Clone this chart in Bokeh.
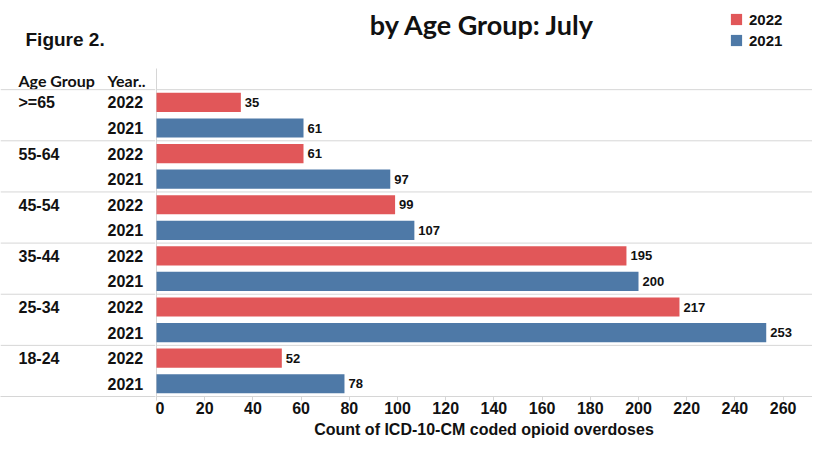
from bokeh.plotting import figure
from bokeh.models import Range1d, ColumnDataSource, Span, FixedTicker, Legend, LegendItem
from bokeh.layouts import row
from bokeh.core.properties import value
from bokeh.embed import file_html
from bokeh.resources import INLINE

# ---- data ----
age_groups = [">=65", "55-64", "45-54", "35-44", "25-34", "18-24"]
years = ["2022", "2021"]
counts_2022 = [35, 61, 99, 195, 217, 52]
counts_2021 = [61, 97, 107, 200, 253, 78]
x_ticks = [0, 20, 40, 60, 80, 100, 120, 140, 160, 180, 200, 220, 240, 260]

title_text = "by Age Group: July"
figure_text = "Figure 2."
x_title = "Count of ICD-10-CM coded opioid overdoses"
header_age = "Age Group"
header_year = "Year.."

RED = "#E15759"
BLUE = "#4E79A7"
SEP = "#d6d6d6"
TXT = "#111111"
LIB = value("Liberation Sans")
HUM = value("Lato")

# ---- layout constants (pixels) ----
H = 441
BOTTOM = 45
FRAME_H = H - BOTTOM
ROW_PX = 25.57
Y_BOTTOM = 11.5
Y_TOP = Y_BOTTOM - FRAME_H / ROW_PX
LEFT_W = 155
MAIN_W = 657
SCALE = 2.41
X0 = -1 / SCALE
X1 = X0 + MAIN_W / SCALE

def ry(py):
    return Y_TOP + py / ROW_PX

def mx(px):
    return X0 + (px - LEFT_W) / SCALE

yr = Range1d(start=Y_BOTTOM, end=Y_TOP)

n = len(age_groups)
rows_2022 = [2 * g for g in range(n)]
rows_2021 = [2 * g + 1 for g in range(n)]
sep_rows = [-0.5] + [2 * g + 1.5 for g in range(n - 1)]

# ---- left label panel ----
left = figure(width=LEFT_W, height=H, x_range=Range1d(0, LEFT_W), y_range=yr,
              toolbar_location=None, output_backend="svg",
              y_axis_location=None,
              min_border_left=0, min_border_right=0, min_border_top=0,
              min_border_bottom=BOTTOM, outline_line_color=None)
left.grid.grid_line_color = None
lax = left.xaxis[0]
lax.ticker = FixedTicker(ticks=[])
lax.axis_line_color = SEP
lax.major_label_text_font_size = "0px"
lax.major_tick_line_color = None
lax.minor_tick_line_color = None

for s in sep_rows:
    left.add_layout(Span(location=s, dimension="width", line_color=SEP, line_width=1))

age_src = ColumnDataSource(dict(y=rows_2022, t=age_groups))
left.text(x=18, y="y", text="t", source=age_src, text_font=LIB, text_font_style="bold",
          text_font_size="16px", text_color=TXT, text_baseline="middle", text_align="left")
year_src = ColumnDataSource(dict(y=rows_2022 + rows_2021,
                                 t=[years[0]] * n + [years[1]] * n))
left.text(x=107, y="y", text="t", source=year_src, text_font=LIB, text_font_style="bold",
          text_font_size="16px", text_color=TXT, text_baseline="middle", text_align="left")
left.text(x=[18, 107], y=[ry(80)] * 2, text=[header_age, header_year], text_font=HUM,
          text_font_style="bold", text_font_size="16px", text_color=TXT,
          text_baseline="middle", text_align="left")
left.text(x=[25], y=[ry(39)], text=[figure_text], text_font=LIB, text_font_style="bold",
          text_font_size="19px", text_color=TXT, text_baseline="middle", text_align="left")

# ---- main bar panel ----
p = figure(width=MAIN_W, height=H, x_range=Range1d(X0, X1), y_range=yr,
           toolbar_location=None, output_backend="svg", y_axis_location=None,
           min_border_left=0, min_border_right=0, min_border_top=0,
           min_border_bottom=BOTTOM, outline_line_color=None)
p.grid.grid_line_color = None

for s in sep_rows:
    p.add_layout(Span(location=s, dimension="width", line_color=SEP, line_width=1))
p.segment(x0=[0], y0=[ry(68)], x1=[0], y1=[Y_BOTTOM], line_color=SEP, line_width=1)

src22 = ColumnDataSource(dict(y=rows_2022, v=counts_2022, t=[str(v) for v in counts_2022]))
src21 = ColumnDataSource(dict(y=rows_2021, v=counts_2021, t=[str(v) for v in counts_2021]))
r22 = p.hbar(y="y", left=0, right="v", height=0.75, source=src22,
             fill_color=RED, line_color=None)
r21 = p.hbar(y="y", left=0, right="v", height=0.75, source=src21,
             fill_color=BLUE, line_color=None)
for src in (src22, src21):
    p.text(x="v", y="y", text="t", source=src, x_offset=4, text_font=LIB,
           text_font_style="bold", text_font_size="13px", text_color=TXT,
           text_baseline="middle", text_align="left")

p.text(x=[mx(482)], y=[ry(24)], text=[title_text], text_font=HUM, text_font_style="bold",
       text_font_size="27px", text_color=TXT, text_baseline="middle", text_align="center")

legend = Legend(items=[LegendItem(label=years[0], renderers=[r22]),
                       LegendItem(label=years[1], renderers=[r21])],
                location=(729 - LEFT_W, FRAME_H - 50), orientation="vertical",
                glyph_width=14, glyph_height=14, label_height=20, label_standoff=6,
                spacing=1, padding=0, margin=0, border_line_alpha=0,
                background_fill_alpha=0, label_text_font="Liberation Sans",
                label_text_font_style="bold", label_text_font_size="15px",
                label_text_color=TXT)
p.add_layout(legend)

ax = p.xaxis[0]
ax.ticker = FixedTicker(ticks=x_ticks)
ax.axis_line_color = SEP
ax.major_tick_line_color = SEP
ax.major_tick_out = 4
ax.major_tick_in = 0
ax.minor_tick_line_color = None
ax.major_label_standoff = 1
ax.major_label_text_font = "Liberation Sans"
ax.major_label_text_font_style = "bold"
ax.major_label_text_font_size = "16px"
ax.major_label_text_color = TXT
ax.axis_label = x_title
ax.axis_label_text_font = "Liberation Sans"
ax.axis_label_text_font_style = "bold"
ax.axis_label_text_font_size = "16px"
ax.axis_label_text_color = TXT
ax.axis_label_standoff = 4

layout = row(left, p)
open("out.html", "w").write(file_html(layout, INLINE))
